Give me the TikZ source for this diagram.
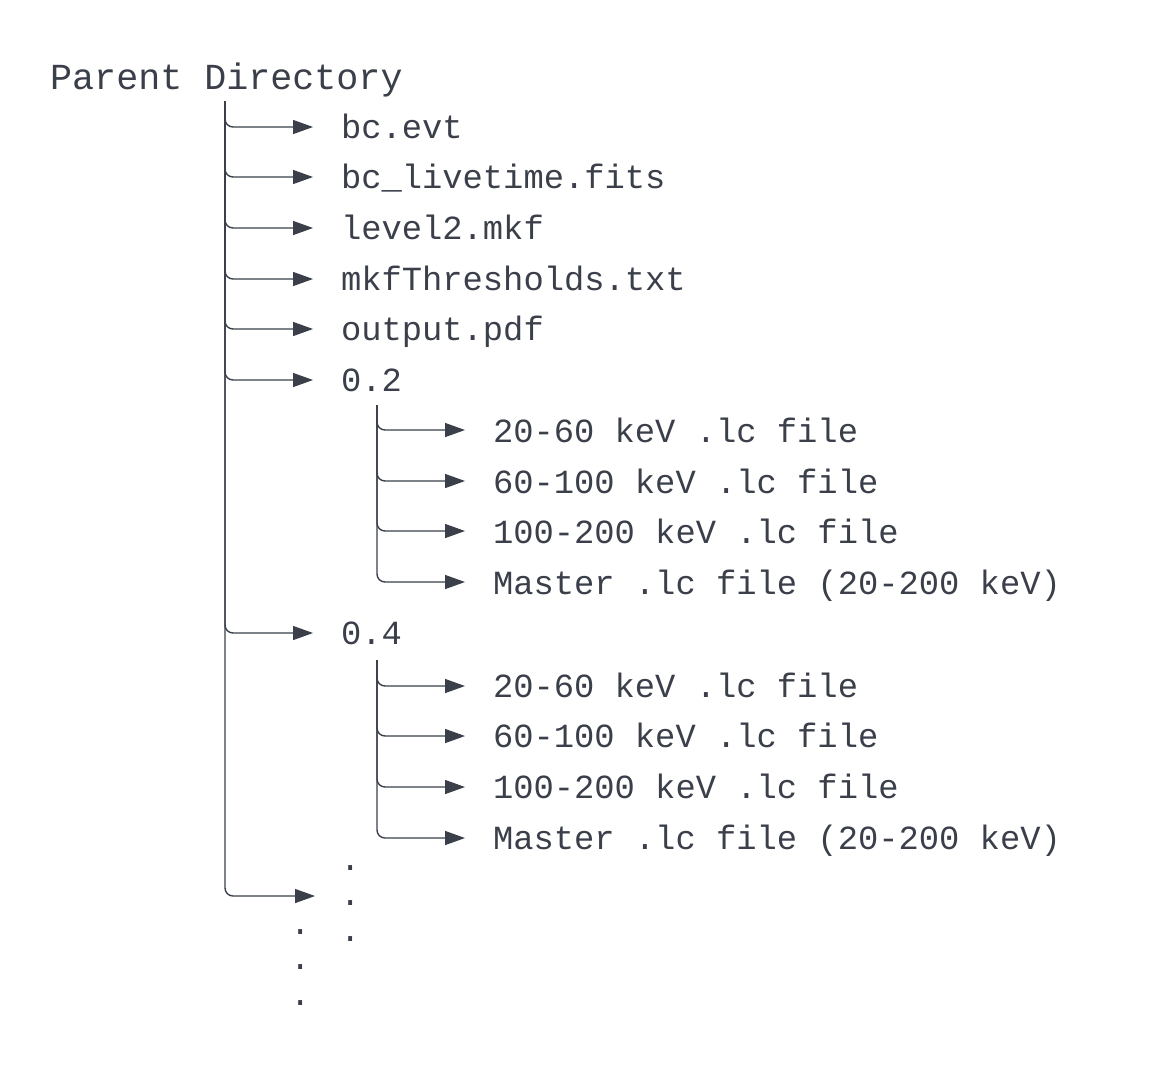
\documentclass[tikz,border=0pt]{standalone}
\usepackage{fontspec}
\newfontfamily\mono{Liberation Mono}
\usetikzlibrary{arrows.meta}
\definecolor{ink}{RGB}{58,63,74}
\tikzset{
  lbl/.style={anchor=west, inner sep=0pt, outer sep=0pt, text height=24pt, text depth=0pt,
    font=\mono\fontsize{33.8}{40}\selectfont, text=ink},
  br/.style={draw=ink, line width=1.4pt, rounded corners=8pt,
    -{Triangle[length=20pt,width=14pt]}, shorten >=28pt},
}
\begin{document}
\begin{tikzpicture}[x=1pt,y=-1pt]
\fill[white] (0,0) rectangle (1167,1080);
\useasboundingbox (0,0) rectangle (1167,1080);

\node[anchor=base west, inner sep=0pt, font=\mono\fontsize{36.7}{44}\selectfont, text=ink] (parent) at (50,89) {Parent Directory};
\coordinate (t0) at (225,101);

% level 1
\node[lbl] (evt) at (341,126) {bc.evt};
\node[lbl] (live) at (341,176) {bc\_livetime.fits};
\node[lbl] (mkf) at (341,227) {level2.mkf};
\node[lbl] (thr) at (341,278) {mkfThresholds.txt};
\node[lbl] (pdf) at (341,328) {output.pdf};
\node[lbl] (d02) at (341,379) {0.2};
\node[lbl] (d04) at (341,632) {0.4};

\coordinate (s02) at (377,405);
\coordinate (s04) at (377,660);

% level 2 under 0.2
\node[lbl] (a1) at (493,430) {20-60 keV .lc file};
\node[lbl] (a2) at (493,481) {60-100 keV .lc file};
\node[lbl] (a3) at (493,531) {100-200 keV .lc file};
\node[lbl] (a4) at (493,582) {Master .lc file (20-200 keV)};

% level 2 under 0.4
\node[lbl] (b1) at (493,685) {20-60 keV .lc file};
\node[lbl] (b2) at (493,735) {60-100 keV .lc file};
\node[lbl] (b3) at (493,786) {100-200 keV .lc file};
\node[lbl] (b4) at (493,837) {Master .lc file (20-200 keV)};

% dots
\node[lbl] (r1) at (340,858) {.};
\node[lbl] (r2) at (340,893) {.};
\node[lbl] (r3) at (340,929) {.};
\node[lbl] (l1) at (290,922) {.};
\node[lbl] (l2) at (290,957) {.};
\node[lbl] (l3) at (290,993) {.};

% connectors
\foreach \n in {evt,live,mkf,thr,pdf,d02,d04}
  \draw[br] (t0) |- ([yshift=-1pt]\n.west);
\draw[br, shorten >=25pt] (t0) |- ([yshift=-3pt]r2.west);
\foreach \n in {a1,a2,a3,a4}
  \draw[br] (s02) |- (\n.west);
\foreach \n in {b1,b2,b3,b4}
  \draw[br] (s04) |- ([yshift=-1pt]\n.west);
\end{tikzpicture}
\end{document}
